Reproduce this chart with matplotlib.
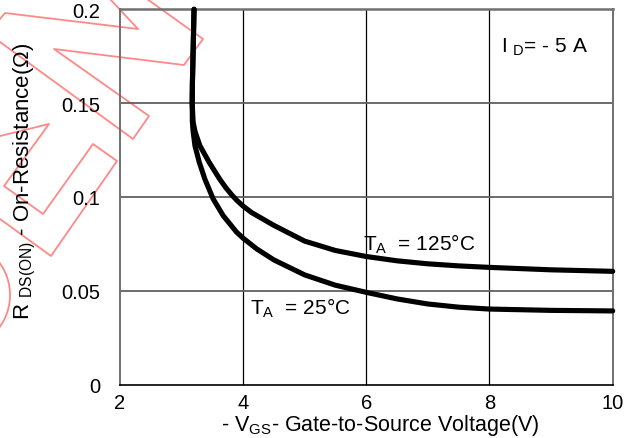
import numpy as np
import matplotlib
matplotlib.use("Agg")
import matplotlib.pyplot as plt
from matplotlib.lines import Line2D

plt.rcParams['font.family'] = ['Liberation Sans', 'DejaVu Sans']
plt.rcParams['mathtext.fontset'] = 'custom'
plt.rcParams['mathtext.rm'] = 'Liberation Sans'
plt.rcParams['mathtext.it'] = 'Liberation Sans'

# ---------------- data ----------------
vgs_25 = [3.205, 3.195, 3.185, 3.178, 3.175, 3.178, 3.19, 3.22, 3.29, 3.38,
          3.515, 3.677, 3.895, 4.0, 4.22, 4.5, 5.0, 5.5, 6.0, 6.5,
          7.0, 7.5, 8.0, 9.0, 10.0]
rds_25 = [0.200, 0.185, 0.170, 0.160, 0.150, 0.140, 0.135, 0.1273, 0.1185, 0.1096,
          0.0990, 0.0901, 0.0813, 0.0781, 0.0724, 0.0665, 0.0585, 0.0530, 0.0492, 0.0457,
          0.0430, 0.0413, 0.0403, 0.0396, 0.0393]

vgs_125 = [3.205, 3.195, 3.185, 3.178, 3.175, 3.19, 3.22, 3.30, 3.45, 3.62,
           3.72, 3.81, 3.90, 4.0, 4.14, 4.5, 5.0, 5.5, 6.0, 6.5,
           7.0, 7.5, 8.0, 9.0, 10.0]
rds_125 = [0.200, 0.185, 0.170, 0.160, 0.150, 0.140, 0.135, 0.1273, 0.1185, 0.1096,
           0.1050, 0.1014, 0.0982, 0.0952, 0.0917, 0.0849, 0.0765, 0.0715, 0.0683, 0.0660,
           0.0644, 0.0633, 0.0625, 0.0612, 0.0604]

x_ticks = [2, 4, 6, 8, 10]
x_tick_labels = ['2', '4', '6', '8', '10']
y_ticks = [0, 0.05, 0.1, 0.15, 0.2]
y_tick_labels = ['0', '0.05', '0.1', '0.15', '0.2']

# ---------------- figure ----------------
W, H = 633, 439
fig = plt.figure(figsize=(W / 100, H / 100), dpi=100)
ax = fig.add_axes([119.8 / W, 1 - 385.7 / H, (612.7 - 119.8) / W, (385.7 - 10.3) / H])
ax.set_facecolor('none')

ax.set_xlim(2, 10)
ax.set_ylim(0, 0.2)

# grid
for v in x_ticks[1:-1]:
    ax.axvline(v, color='black', lw=0.9, zorder=1)
for r in y_ticks[1:-1]:
    ax.axhline(r, color='#606060', lw=1.3, zorder=1)

for side in ['top', 'right', 'left']:
    ax.spines[side].set_color('#707070')
    ax.spines[side].set_linewidth(1.4)
ax.spines['bottom'].set_color('black')
ax.spines['bottom'].set_linewidth(1.2)
ax.spines['top'].set_linewidth(1.8)

ax.plot(vgs_125, rds_125, color='black', lw=3.7, solid_capstyle='round',
        solid_joinstyle='round', zorder=3, clip_on=False)
ax.plot(vgs_25, rds_25, color='black', lw=3.7, solid_capstyle='round',
        solid_joinstyle='round', zorder=3, clip_on=False)

ax.set_xticks(x_ticks)
ax.set_xticklabels(x_tick_labels)
ax.set_yticks(y_ticks)
ax.set_yticklabels(y_tick_labels)
ax.tick_params(axis='both', length=0, labelsize=14.5)
ax.tick_params(axis='x', pad=6)
ax.tick_params(axis='y', pad=14)

ax.set_xlabel(r'- V$_{\mathrm{GS}}$- Gate-to-Source Voltage(V)', fontsize=15.5, va='center')
ax.xaxis.set_label_coords(0.528, -0.105)
ax.set_ylabel(r'R $_{\mathrm{DS(ON)}}$ - On-Resistance(Ω)', fontsize=16, va='center')
ax.yaxis.set_label_coords(-0.193, 0.545)

ax.text(8.19, 0.1805, r'I $_{\mathrm{D}}$= - 5 A', fontsize=15, va='center', ha='left')
ax.text(5.95, 0.0755, r'T$_{\mathrm{A}}$  = 125°C', fontsize=15, va='center', ha='left')
ax.text(4.12, 0.0412, r'T$_{\mathrm{A}}$  = 25°C', fontsize=15, va='center', ha='left')

# ---------------- background watermark (decoration, figure pixels) ----------------
wm_color = '#ff7b7b'
wm_paths = [
    [(0, 20), (5, 14), (138, 30), (110, 0)],
    [(147, 0), (203, 40), (184, 66), (54, 50), (149, 117), (133, 140), (0, 43)],
    [(0, 137), (49, 125), (4, 187), (43, 215), (93, 145), (117, 162), (51, 257), (0, 220)],
]
theta = np.linspace(-0.62, 0.62, 40)
wm_paths.append(list(zip(-45 + 55 * np.cos(theta), 296 + 55 * np.sin(theta))))
for p in wm_paths:
    xs = [q[0] / W for q in p]
    ys = [1 - q[1] / H for q in p]
    fig.add_artist(Line2D(xs, ys, transform=fig.transFigure, color=wm_color,
                          lw=1.3, zorder=-1, alpha=0.9))

fig.savefig('out.png', dpi=100)
